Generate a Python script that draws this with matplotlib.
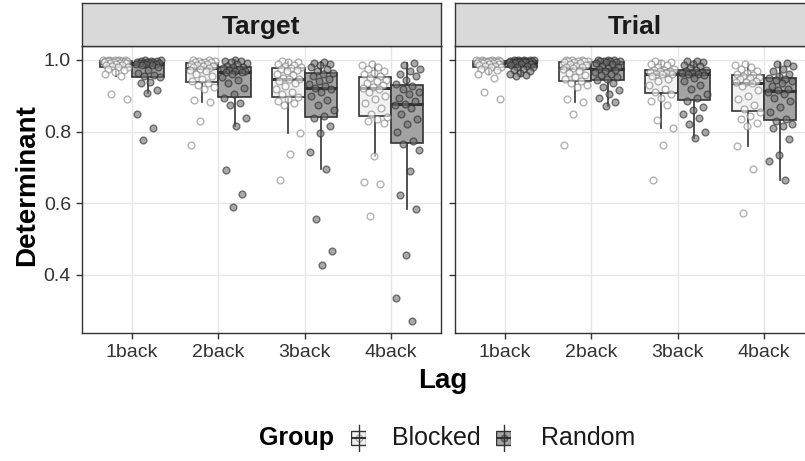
import numpy as np
import matplotlib
matplotlib.use("Agg")
import matplotlib.pyplot as plt
from matplotlib.patches import Rectangle

plt.rcParams['font.family'] = ['Liberation Sans', 'DejaVu Sans']

# ---------------- data ----------------
lags = ["1back", "2back", "3back", "4back"]
groups = ["Blocked", "Random"]
facets = ["Target", "Trial"]

target_blocked_1 = [1.000, 1.000, 0.999, 0.999, 0.999, 0.998, 0.998, 0.998, 0.998, 0.997, 0.996, 0.995, 0.994, 0.993, 0.992,
                    0.992, 0.991, 0.989, 0.987, 0.985, 0.983, 0.981, 0.979, 0.975, 0.971, 0.966, 0.961, 0.956, 0.904, 0.891]
target_random_1 = [1.000, 0.999, 0.998, 0.997, 0.996, 0.995, 0.994, 0.993, 0.992, 0.992, 0.991, 0.991, 0.990, 0.989, 0.989,
                   0.987, 0.985, 0.980, 0.972, 0.965, 0.958, 0.955, 0.952, 0.939, 0.935, 0.916, 0.907, 0.849, 0.811, 0.777]
target_blocked_2 = [1.000, 0.999, 0.998, 0.997, 0.995, 0.994, 0.993, 0.991, 0.990, 0.988, 0.986, 0.984, 0.982, 0.979, 0.977,
                    0.976, 0.972, 0.968, 0.962, 0.955, 0.948, 0.941, 0.937, 0.930, 0.925, 0.920, 0.888, 0.884, 0.830, 0.764]
target_random_2 = [1.000, 0.998, 0.996, 0.994, 0.992, 0.988, 0.984, 0.981, 0.979, 0.977, 0.975, 0.972, 0.970, 0.968, 0.967,
                   0.966, 0.960, 0.952, 0.945, 0.935, 0.922, 0.905, 0.895, 0.880, 0.874, 0.837, 0.815, 0.693, 0.626, 0.590]
target_blocked_3 = [0.998, 0.995, 0.993, 0.990, 0.987, 0.984, 0.980, 0.977, 0.976, 0.972, 0.968, 0.962, 0.957, 0.951, 0.948,
                    0.946, 0.940, 0.935, 0.928, 0.920, 0.912, 0.904, 0.896, 0.890, 0.885, 0.880, 0.875, 0.795, 0.737, 0.665]
target_random_3 = [0.995, 0.992, 0.988, 0.985, 0.980, 0.975, 0.970, 0.964, 0.962, 0.955, 0.948, 0.940, 0.933, 0.927, 0.923,
                   0.919, 0.912, 0.900, 0.888, 0.875, 0.860, 0.845, 0.838, 0.815, 0.795, 0.744, 0.697, 0.556, 0.467, 0.429]
target_blocked_4 = [0.990, 0.985, 0.980, 0.975, 0.970, 0.965, 0.960, 0.954, 0.950, 0.945, 0.940, 0.935, 0.930, 0.925, 0.922,
                    0.920, 0.912, 0.900, 0.890, 0.880, 0.865, 0.850, 0.840, 0.835, 0.830, 0.825, 0.733, 0.659, 0.654, 0.564]
target_random_4 = [0.991, 0.985, 0.975, 0.968, 0.962, 0.955, 0.945, 0.932, 0.928, 0.920, 0.912, 0.905, 0.895, 0.885, 0.878,
                   0.874, 0.865, 0.850, 0.835, 0.820, 0.800, 0.775, 0.765, 0.749, 0.690, 0.623, 0.583, 0.455, 0.336, 0.271]

trial_blocked_1 = [1.000, 1.000, 0.999, 0.999, 0.998, 0.998, 0.998, 0.998, 0.997, 0.996, 0.995, 0.994, 0.993, 0.992, 0.991,
                   0.991, 0.990, 0.988, 0.986, 0.984, 0.982, 0.980, 0.979, 0.976, 0.972, 0.968, 0.962, 0.949, 0.912, 0.891]
trial_random_1 = [1.000, 1.000, 0.999, 0.999, 0.999, 0.998, 0.998, 0.998, 0.997, 0.997, 0.996, 0.995, 0.995, 0.994, 0.993,
                  0.993, 0.992, 0.990, 0.988, 0.986, 0.983, 0.981, 0.979, 0.975, 0.972, 0.968, 0.965, 0.962, 0.958, 0.955]
trial_blocked_2 = [1.000, 0.999, 0.999, 0.998, 0.997, 0.997, 0.996, 0.995, 0.994, 0.992, 0.990, 0.987, 0.984, 0.981, 0.979,
                   0.978, 0.975, 0.970, 0.965, 0.958, 0.952, 0.946, 0.940, 0.935, 0.930, 0.925, 0.890, 0.884, 0.849, 0.764]
trial_random_2 = [1.000, 0.999, 0.999, 0.998, 0.998, 0.997, 0.996, 0.995, 0.994, 0.992, 0.988, 0.984, 0.980, 0.977, 0.975,
                  0.973, 0.970, 0.966, 0.962, 0.958, 0.953, 0.948, 0.944, 0.935, 0.925, 0.915, 0.905, 0.895, 0.884, 0.872]
trial_blocked_3 = [0.998, 0.995, 0.992, 0.988, 0.985, 0.980, 0.976, 0.972, 0.971, 0.970, 0.968, 0.966, 0.964, 0.962, 0.961,
                   0.960, 0.955, 0.948, 0.940, 0.930, 0.920, 0.912, 0.905, 0.895, 0.885, 0.875, 0.832, 0.811, 0.764, 0.665]
trial_random_3 = [0.998, 0.996, 0.994, 0.990, 0.986, 0.982, 0.977, 0.973, 0.971, 0.969, 0.967, 0.965, 0.963, 0.962, 0.961,
                  0.959, 0.950, 0.940, 0.930, 0.920, 0.905, 0.893, 0.885, 0.870, 0.860, 0.850, 0.838, 0.820, 0.800, 0.783]
trial_blocked_4 = [0.990, 0.985, 0.980, 0.975, 0.970, 0.965, 0.962, 0.959, 0.956, 0.953, 0.950, 0.946, 0.942, 0.939, 0.938,
                   0.936, 0.928, 0.915, 0.900, 0.890, 0.875, 0.862, 0.855, 0.845, 0.835, 0.825, 0.815, 0.760, 0.696, 0.572]
trial_random_4 = [0.992, 0.988, 0.982, 0.975, 0.968, 0.962, 0.955, 0.950, 0.948, 0.944, 0.940, 0.935, 0.928, 0.920, 0.915,
                  0.911, 0.905, 0.895, 0.885, 0.870, 0.855, 0.836, 0.830, 0.820, 0.815, 0.809, 0.780, 0.735, 0.719, 0.665]

y_ticks = [0.4, 0.6, 0.8, 1.0]
y_tick_labels = ["0.4", "0.6", "0.8", "1.0"]

panel_data = {
    "Target": {"Blocked": [target_blocked_1, target_blocked_2, target_blocked_3, target_blocked_4],
               "Random": [target_random_1, target_random_2, target_random_3, target_random_4]},
    "Trial": {"Blocked": [trial_blocked_1, trial_blocked_2, trial_blocked_3, trial_blocked_4],
              "Random": [trial_random_1, trial_random_2, trial_random_3, trial_random_4]},
}

# ---------------- style ----------------
W, H = 805, 461
fig = plt.figure(figsize=(W / 100, H / 100), dpi=100)

box_fill = {"Blocked": "#f2f2f2", "Random": "#a3a3a3"}
pt_face = {"Blocked": "white", "Random": "#707070"}
pt_edge = {"Blocked": "#808080", "Random": "#2b2b2b"}
dodge = {"Blocked": -0.1875, "Random": 0.1875}
edge_col = "#333333"

def px_axes(x0, y0, w, h):
    return fig.add_axes([x0 / W, 1 - (y0 + h) / H, w / W, h / H])

panel_left = [82, 455]
panel_w = 359
panel_top, panel_bot = 46, 333
strip_top = 3

xlim = (0.42, 4.58)
ylim = (0.238, 1.039)

for fi, facet in enumerate(facets):
    ax = px_axes(panel_left[fi], panel_top, panel_w, panel_bot - panel_top)
    ax.set_xlim(*xlim)
    ax.set_ylim(*ylim)
    ax.set_axisbelow(True)
    ax.grid(True, color="#e6e6e6", lw=1.0)
    for s in ax.spines.values():
        s.set_color(edge_col)
        s.set_linewidth(1.0)
    pos_base = np.arange(1, len(lags) + 1)
    for g in groups:
        data = panel_data[facet][g]
        pos = pos_base + dodge[g]
        ax.boxplot(data, positions=pos, widths=0.375, patch_artist=True, showfliers=False,
                   whis=1.5, showcaps=False,
                   boxprops=dict(facecolor=box_fill[g], edgecolor=edge_col, lw=1.2),
                   whiskerprops=dict(color=edge_col, lw=1.2),
                   medianprops=dict(color=edge_col, lw=2.2),
                   zorder=2)
        for li, vals in enumerate(data):
            n = len(vals)
            offs = (((np.arange(n) * 0.6180339887 + 0.13 * li + (0.37 if g == "Random" else 0.0)) % 1.0) - 0.5) * 0.30
            ax.scatter(pos[li] + offs, vals, s=24, facecolor=pt_face[g], edgecolor=pt_edge[g],
                       linewidths=1.0, alpha=0.6, zorder=3)
    ax.set_xticks(pos_base)
    ax.set_xticklabels(lags, fontsize=14, color="#333333")
    ax.set_yticks(y_ticks)
    if fi == 0:
        ax.set_yticklabels(y_tick_labels, fontsize=14, color="#333333")
    else:
        ax.set_yticklabels([])
        ax.tick_params(axis="y", length=0)
    ax.tick_params(axis="both", color="#333333", length=4, width=1.0, pad=4)

    # strip
    sax = px_axes(panel_left[fi], strip_top, panel_w, panel_top - strip_top)
    sax.set_xticks([]); sax.set_yticks([])
    sax.set_facecolor("#d9d9d9")
    for s in sax.spines.values():
        s.set_color(edge_col)
        s.set_linewidth(1.0)
    sax.text(0.5, 0.45, facet, transform=sax.transAxes, ha="center", va="center",
             fontsize=19, fontweight="bold", color="#1a1a1a")

# axis titles
fig.text(443 / W, 1 - 381 / H, "Lag", ha="center", va="center", fontsize=20, fontweight="bold")
fig.text(27 / W, 1 - 185 / H, "Determinant", ha="center", va="center", rotation=90,
         fontsize=20, fontweight="bold")

# legend
leg_y = 438
fig.text(296 / W, 1 - leg_y / H, "Group", ha="center", va="center", fontsize=18, fontweight="bold")
for g, kx, tx in [("Blocked", 351, 392), ("Random", 496, 541)]:
    kax = px_axes(kx, leg_y - 14, 15, 28)
    kax.set_xlim(0, 1); kax.set_ylim(0, 1)
    kax.axis("off")
    kax.plot([0.5, 0.5], [0.02, 0.98], color=edge_col, lw=1.0)
    kax.add_patch(Rectangle((0.03, 0.24), 0.94, 0.52, facecolor=box_fill[g], edgecolor=edge_col, lw=1.0))
    kax.plot([0.03, 0.97], [0.5, 0.5], color=edge_col, lw=1.5)
    kax.scatter([0.5], [0.5], s=22, facecolor=pt_face[g], edgecolor=pt_edge[g], linewidths=1.0, alpha=0.6)
    fig.text(tx / W, 1 - leg_y / H, g, ha="left", va="center", fontsize=18, color="#1a1a1a")

fig.savefig("out.png", dpi=100)
